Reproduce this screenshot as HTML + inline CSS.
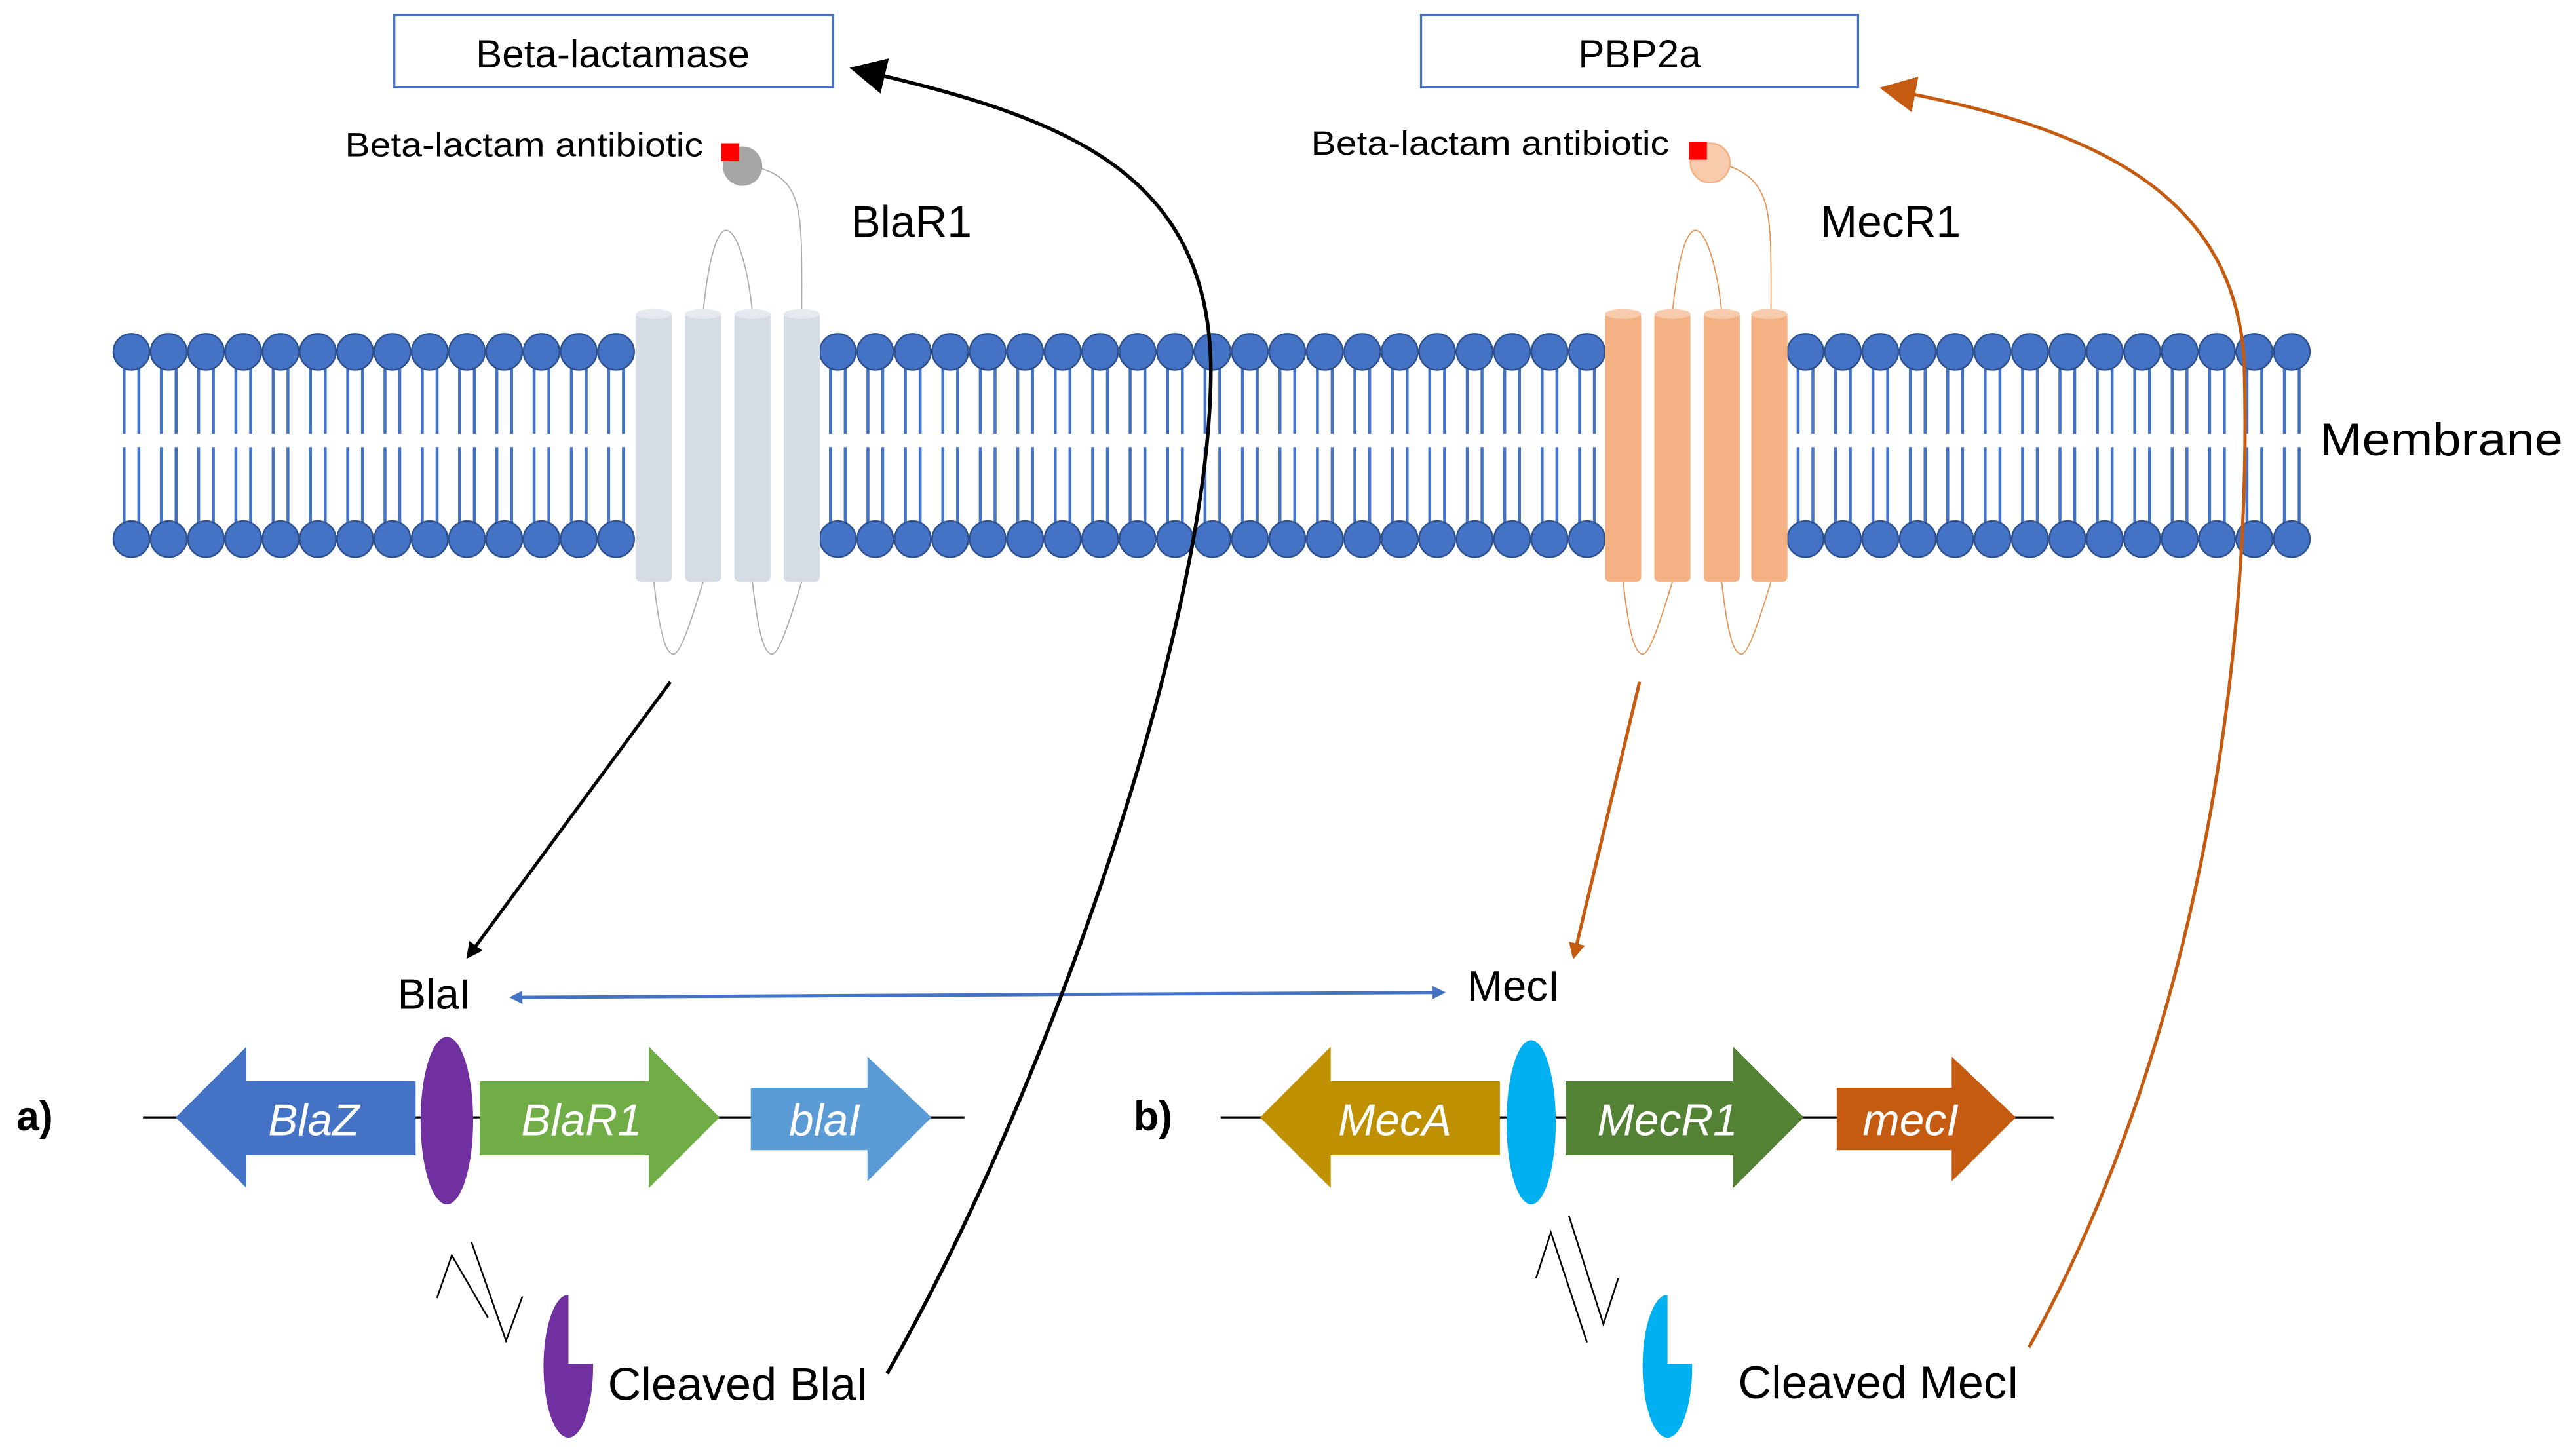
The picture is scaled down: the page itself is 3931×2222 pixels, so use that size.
<!DOCTYPE html>
<html><head><meta charset="utf-8"><style>
html,body{margin:0;padding:0;background:#fff;width:3931px;height:2222px;overflow:hidden}
svg{display:block}
text{font-family:"Liberation Sans",sans-serif}
</style></head><body>
<svg id="s" width="3931" height="2222" viewBox="0 0 1568 886" xmlns="http://www.w3.org/2000/svg">
<defs>
<marker id="ab" markerWidth="10" markerHeight="10" refX="8" refY="5" orient="auto" markerUnits="userSpaceOnUse"><path d="M0,0 L10,5 L0,10 z" fill="#000"/></marker>
<marker id="ao" markerWidth="10" markerHeight="10" refX="8" refY="5" orient="auto" markerUnits="userSpaceOnUse"><path d="M0,0 L10,5 L0,10 z" fill="#c55a11"/></marker>
<marker id="bigb" markerWidth="22" markerHeight="22" refX="18" refY="11" orient="auto" markerUnits="userSpaceOnUse"><path d="M0,0 L22,11 L0,22 z" fill="#000"/></marker>
<marker id="bigo" markerWidth="22" markerHeight="22" refX="18" refY="11" orient="auto" markerUnits="userSpaceOnUse"><path d="M0,0 L22,11 L0,22 z" fill="#c55a11"/></marker>
<marker id="bl" markerWidth="8" markerHeight="8" refX="6" refY="4" orient="auto-start-reverse" markerUnits="userSpaceOnUse"><path d="M0,0 L8,4 L0,8 z" fill="#4472c4"/></marker>
</defs>
<g id="mem"></g>
<rect x="240" y="9" width="267" height="44" fill="#fff" stroke="#4472c4" stroke-width="1.3"/>
<text x="373" y="41" font-size="24" text-anchor="middle">Beta-lactamase</text>
<rect x="865" y="9" width="266" height="44" fill="#fff" stroke="#4472c4" stroke-width="1.3"/>
<text x="998" y="41" font-size="24" text-anchor="middle">PBP2a</text>
<text x="210" y="95" font-size="20.5" textLength="218" lengthAdjust="spacingAndGlyphs">Beta-lactam antibiotic</text>
<text x="798" y="94" font-size="20.5" textLength="218" lengthAdjust="spacingAndGlyphs">Beta-lactam antibiotic</text>
<text x="518" y="144" font-size="27">BlaR1</text>
<text x="1108" y="144" font-size="27">MecR1</text>
<text x="1412" y="277" font-size="28" textLength="148" lengthAdjust="spacingAndGlyphs">Membrane</text>
<g fill="none" stroke="#aaa" stroke-width="0.7">
<path d="M428,190 C432,150 438,140 442,140 C448,140 455,160 458,190"/>
<path d="M488,190 C488,130 490,110 462,102"/>
<path d="M398,354 C402,390 406,398 410,398 C414,398 420,380 428,354"/>
<path d="M458,354 C462,390 466,398 470,398 C474,398 480,380 488,354"/>
</g>
<g fill="none" stroke="#e8904f" stroke-width="0.7">
<path d="M1018,190 C1022,150 1028,140 1032,140 C1038,140 1045,160 1048,190"/>
<path d="M1078,190 C1078,130 1080,110 1050,100"/>
<path d="M988,354 C992,390 996,398 1000,398 C1004,398 1010,380 1018,354"/>
<path d="M1048,354 C1052,390 1056,398 1060,398 C1064,398 1070,380 1078,354"/>
</g>
<circle cx="452" cy="101" r="12" fill="#a6a6a6"/>
<rect x="439" y="87" width="11" height="11" fill="#ff0000"/>
<circle cx="1041" cy="99" r="12" fill="#f8cbad" stroke="#f4b183"/>
<rect x="1028" y="86" width="11" height="11" fill="#ff0000"/>
<g id="cyl"></g>
<line x1="408" y1="415" x2="285" y2="582" stroke="#000" stroke-width="2" marker-end="url(#ab)"/>
<line x1="998" y1="415" x2="958" y2="582" stroke="#c55a11" stroke-width="2" marker-end="url(#ao)"/>
<line x1="312" y1="607" x2="878" y2="604" stroke="#4472c4" stroke-width="2" marker-end="url(#bl)" marker-start="url(#bl)"/>
<text x="242" y="614" font-size="26">BlaI</text>
<text x="893" y="609" font-size="26">MecI</text>
<text x="10" y="688" font-size="25" font-weight="bold">a)</text>
<line x1="87" y1="680" x2="587" y2="680" stroke="#000" stroke-width="1.3"/>
<path d="M107,680 L150,637 L150,658 L253,658 L253,703 L150,703 L150,723 Z" fill="#4472c4"/>
<path d="M292,658 L395,658 L395,637 L438,680 L395,723 L395,703 L292,703 Z" fill="#70ad47"/>
<path d="M457,662 L528,662 L528,643 L567,680 L528,719 L528,700 L457,700 Z" fill="#5b9bd5"/>
<ellipse cx="272" cy="682" rx="16" ry="51" fill="#7030a0"/>
<g fill="#fff" font-size="27" font-style="italic" text-anchor="middle">
<text x="191" y="691">BlaZ</text><text x="354" y="691">BlaR1</text><text x="502" y="691">blaI</text>
</g>
<text x="690" y="688" font-size="25" font-weight="bold">b)</text>
<line x1="743" y1="680" x2="1250" y2="680" stroke="#000" stroke-width="1.3"/>
<path d="M767,680 L810,637 L810,658 L913,658 L913,703 L810,703 L810,723 Z" fill="#bf9000"/>
<path d="M953,658 L1055,658 L1055,637 L1098,680 L1055,723 L1055,703 L953,703 Z" fill="#548235"/>
<path d="M1118,662 L1188,662 L1188,643 L1227,680 L1188,719 L1188,700 L1118,700 Z" fill="#c55a11"/>
<g fill="#fff" font-size="27" font-style="italic" text-anchor="middle">
<text x="849" y="691">MecA</text><text x="1015" y="691">MecR1</text><text x="1163" y="691">mecI</text>
</g>
<ellipse cx="932" cy="683" rx="15" ry="50" fill="#00b0f0"/>
<g fill="none" stroke="#000" stroke-width="1">
<polyline points="266,790 275,764 297,802"/>
<polyline points="287,756 308,816 318,789"/>
<polyline points="935,778 944,750 966,817"/>
<polyline points="955,740 976,806 985,778"/>
</g>
<path d="M346,788 A15,43 0 0 0 346,875 A15,43 0 0 0 361,832 L361,830 L346,830 Z" fill="#7030a0"/>
<path d="M1015,788 A15,43 0 0 0 1015,875 A15,43 0 0 0 1030,832 L1030,830 L1015,830 Z" fill="#00b0f0"/>
<text x="370" y="852" font-size="28">Cleaved BlaI</text>
<text x="1058" y="851" font-size="28">Cleaved MecI</text>
<path d="M540,836 C640,660 735,380 737,230 C739,100 640,70 521,42" fill="none" stroke="#000" stroke-width="2.2" marker-end="url(#bigb)"/>
<path d="M1235,820 C1330,650 1372,420 1366,220 C1360,110 1260,75 1148,54" fill="none" stroke="#c55a11" stroke-width="2" marker-end="url(#bigo)"/>
</svg>
<script>
var NS="http://www.w3.org/2000/svg";
function el(p,t,a){var e=document.createElementNS(NS,t);for(var k in a)e.setAttribute(k,a[k]);p.appendChild(e);return e;}
var m=document.getElementById("mem");
function seg(x0,x1,n){
  var d=(x1-x0)/(n-1);
  for(var i=0;i<n;i++){var x=x0+i*d;
    [-4.5,4.5].forEach(function(o){
      el(m,"line",{x1:x+o,y1:214,x2:x+o,y2:264,stroke:"#4472c4","stroke-width":1.8});
      el(m,"line",{x1:x+o,y1:272,x2:x+o,y2:328,stroke:"#4472c4","stroke-width":1.8});
    });
  }
  for(var i=0;i<n;i++){var x=x0+i*d;
    el(m,"circle",{cx:x,cy:214,r:11,fill:"#4472c4",stroke:"#2f528f","stroke-width":1});
    el(m,"circle",{cx:x,cy:328,r:11,fill:"#4472c4",stroke:"#2f528f","stroke-width":1});
  }
}
seg(80,375,14);seg(510,966,21);seg(1099,1395,14);
var c=document.getElementById("cyl");
function cyl(x,fill,edge){
  el(c,"rect",{x:x,y:190,width:22,height:164,rx:3,fill:fill});
  el(c,"ellipse",{cx:x+11,cy:191,rx:11,ry:3,fill:edge});
}
[387,417,447,477].forEach(function(x){cyl(x,"#d6dce4","#e6eaf0");});
[977,1007,1037,1066].forEach(function(x){cyl(x,"#f4b183","#f8cbad");});
</script>
</body></html>
